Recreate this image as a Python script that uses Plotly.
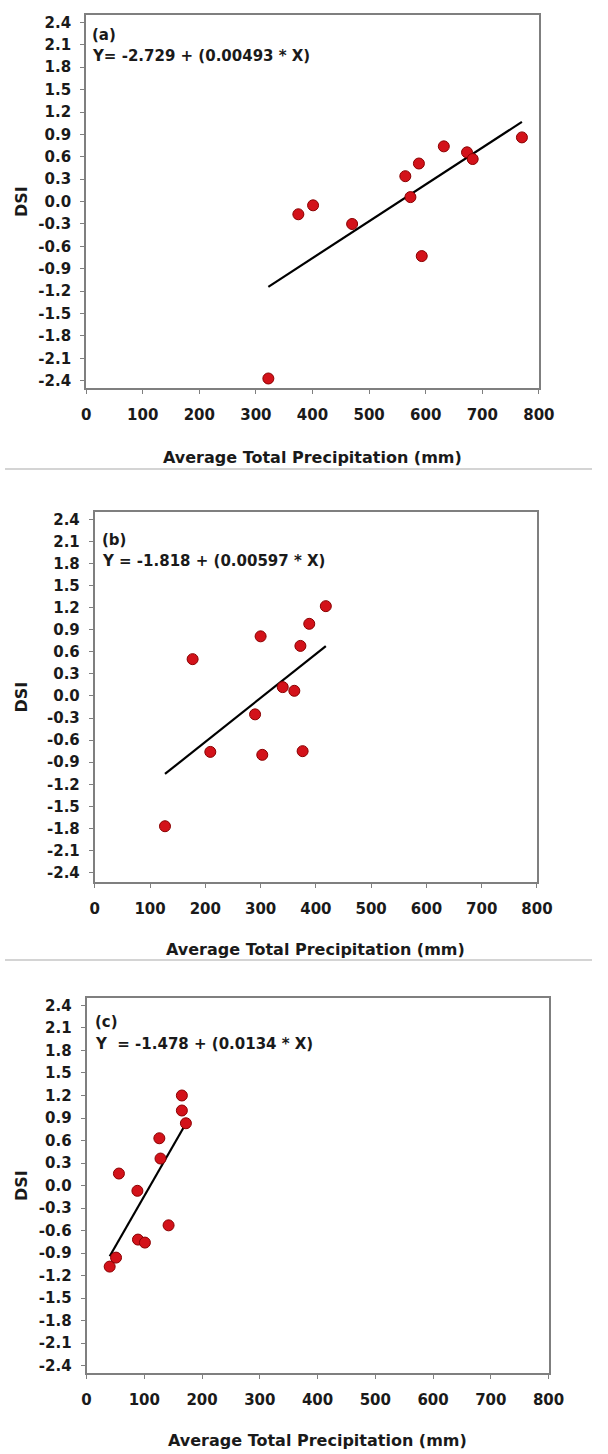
import plotly.graph_objects as go

W, H = 608, 1454

# ---------------- data ----------------
precip_a = [322, 375, 401, 470, 564, 573, 588, 593, 632, 673, 683, 770]
dsi_a = [-2.37, -0.17, -0.05, -0.30, 0.34, 0.06, 0.51, -0.73, 0.74, 0.66, 0.57, 0.86]
intercept_a, slope_a = -2.729, 0.00493
eq_a = "Y= -2.729 + (0.00493 * X)"

precip_b = [127, 177, 209, 290, 300, 303, 340, 361, 372, 376, 388, 418]
dsi_b = [-1.77, 0.50, -0.76, -0.25, 0.81, -0.80, 0.12, 0.07, 0.68, -0.75, 0.98, 1.22]
intercept_b, slope_b = -1.818, 0.00597
eq_b = "Y = -1.818 + (0.00597 * X)"

precip_c = [40, 51, 56, 88, 89, 101, 126, 128, 142, 165, 165, 172]
dsi_c = [-1.08, -0.96, 0.16, -0.07, -0.72, -0.76, 0.63, 0.36, -0.53, 1.20, 1.00, 0.83]
intercept_c, slope_c = -1.478, 0.0134
eq_c = "Y\u00a0\u00a0= -1.478 + (0.0134 * X)"

panel_labels = ["(a)", "(b)", "(c)"]
x_ticks = [0, 100, 200, 300, 400, 500, 600, 700, 800]
y_ticks = [-2.4, -2.1, -1.8, -1.5, -1.2, -0.9, -0.6, -0.3, 0.0, 0.3, 0.6, 0.9,
           1.2, 1.5, 1.8, 2.1, 2.4]
x_title = "Average Total Precipitation (mm)"
y_title = "DSI"

# ---------------- layout geometry (pixels) ----------------
# (left, right, top, bottom) of each plot frame
boxes = [(84, 553, 14, 388), (93, 551, 512, 883), (84.5, 563, 999, 1375)]
y_ranges = [[-2.5, 2.5], [-2.53, 2.5], [-2.5, 2.5]]
label_pos = [(88, 34), (98, 540), (91, 1023)]
eq_pos = [(88, 55), (98, 561), (91, 1045)]
xtitle_y = [457, 950, 1442]
sep_lines = [469, 961]

FONT = "DejaVu Sans"
TXT = "#1a1a1a"
AXC = "#7f7f7f"


def px(x):
    return x / W


def py(y):
    return 1 - y / H


fig = go.Figure()
datasets = [(precip_a, dsi_a, intercept_a, slope_a, eq_a),
            (precip_b, dsi_b, intercept_b, slope_b, eq_b),
            (precip_c, dsi_c, intercept_c, slope_c, eq_c)]

annotations = []
shapes = []
for i, (xs, ys, b0, b1, eq) in enumerate(datasets):
    sfx = "" if i == 0 else str(i + 1)
    xa, ya = "x" + sfx, "y" + sfx
    xmin, xmax = min(xs), max(xs)
    fig.add_trace(go.Scatter(
        x=[xmin, xmax], y=[b0 + b1 * xmin, b0 + b1 * xmax],
        mode="lines", line=dict(color="black", width=2.2),
        xaxis=xa, yaxis=ya, showlegend=False, hoverinfo="skip"))
    fig.add_trace(go.Scatter(
        x=xs, y=ys, mode="markers",
        marker=dict(size=11, color="#d3121a", line=dict(color="#8a0000", width=1)),
        xaxis=xa, yaxis=ya, showlegend=False, cliponaxis=False))

    l, r, t, btm = boxes[i]
    axis_common = dict(showline=True, linecolor=AXC, linewidth=2, mirror=True,
                       showgrid=False, zeroline=False, ticks="outside", ticklen=4,
                       tickcolor=AXC, tickwidth=1,
                       tickfont=dict(family=FONT, size=15, color=TXT, weight="bold"))
    fig.update_layout({
        "xaxis" + sfx: dict(domain=[px(l), px(r)], range=[0, 800], anchor=ya,
                            tickvals=x_ticks, ticktext=[str(v) for v in x_ticks],
                            ticklabelstandoff=8, **axis_common),
        "yaxis" + sfx: dict(domain=[py(btm), py(t)], range=y_ranges[i], anchor=xa,
                            tickvals=y_ticks, ticktext=["%.1f" % v for v in y_ticks],
                            ticklabelstandoff=6, **axis_common),
    })

    annotations.append(dict(x=px(label_pos[i][0]), y=py(label_pos[i][1]), xref="paper", yref="paper",
                            text=panel_labels[i], showarrow=False, xanchor="left", yanchor="middle",
                            font=dict(family=FONT, size=15, color=TXT, weight="bold")))
    annotations.append(dict(x=px(eq_pos[i][0]), y=py(eq_pos[i][1]), xref="paper", yref="paper",
                            text=eq, showarrow=False, xanchor="left", yanchor="middle",
                            font=dict(family=FONT, size=15, color=TXT, weight="bold")))
    annotations.append(dict(x=px((l + r) / 2), y=py(xtitle_y[i]), xref="paper", yref="paper",
                            text=x_title, showarrow=False, xanchor="center", yanchor="middle",
                            font=dict(family=FONT, size=16, color=TXT, weight="bold")))
    annotations.append(dict(x=px(17), y=py((t + btm) / 2), xref="paper", yref="paper",
                            text=y_title, showarrow=False, textangle=-90,
                            xanchor="center", yanchor="middle",
                            font=dict(family=FONT, size=16, color=TXT, weight="bold")))

for sy in sep_lines:
    shapes.append(dict(type="line", xref="paper", yref="paper", x0=0, x1=1,
                       y0=py(sy), y1=py(sy), line=dict(color="#d4d4d4", width=2)))

fig.update_layout(width=W, height=H, margin=dict(l=0, r=0, t=0, b=0),
                  paper_bgcolor="white", plot_bgcolor="white",
                  annotations=annotations, shapes=shapes)

fig.write_html("out.html")
